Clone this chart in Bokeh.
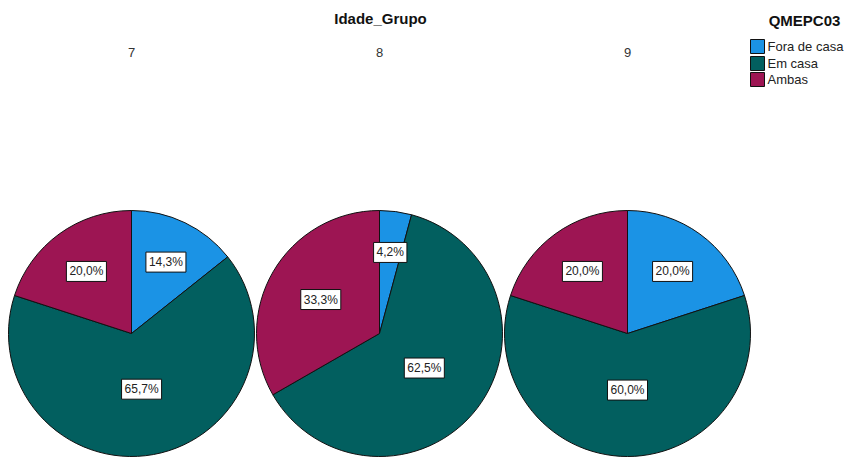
import math
from bokeh.plotting import figure
from bokeh.models import ColumnDataSource, Range1d
from bokeh.embed import file_html
from bokeh.resources import INLINE
from bokeh.core.properties import value

# ---- data ----
groups = ["7", "8", "9"]
categories = ["Fora de casa", "Em casa", "Ambas"]
fora_de_casa = [14.3, 4.2, 20.0]
em_casa = [65.7, 62.5, 60.0]
ambas = [20.0, 33.3, 20.0]
colors = ["#1b93e5", "#025f5f", "#9d1553"]
chart_title = "Idade_Grupo"
legend_title = "QMEPC03"

W, H = 860, 459
FONT = "Liberation Sans"

p = figure(width=W, height=H, x_range=Range1d(0, W), y_range=Range1d(0, H),
           output_backend="svg", toolbar_location=None, min_border=0,
           x_axis_location=None, y_axis_location=None)
p.grid.visible = False
p.outline_line_color = None
p.background_fill_color = "white"
p.border_fill_color = "white"

def sy(y):
    return H - y

centers_x = [131, 379, 627]
cy = sy(333)
R = 123

wx, wy, ws, we, wc = [], [], [], [], []
lx, ly, lt = [], [], []
series = [fora_de_casa, em_casa, ambas]
for gi, g in enumerate(groups):
    vals = [s[gi] for s in series]
    total = sum(vals)
    cum = 0.0
    for ci, v in enumerate(vals):
        a0 = 2 * math.pi * cum / total
        a1 = 2 * math.pi * (cum + v) / total
        cum += v
        wx.append(centers_x[gi]); wy.append(cy)
        ws.append(math.pi / 2 - a1); we.append(math.pi / 2 - a0)
        wc.append(colors[ci])
        th = a1 - a0
        d = 4 * R * math.sin(th / 2) / (3 * th)
        d = max(d, 0.46 * R)
        am = (a0 + a1) / 2
        lx.append(centers_x[gi] + d * math.sin(am))
        ly.append(cy + d * math.cos(am))
        lt.append(f"{v:.1f}".replace(".", ",") + "%")

wsrc = ColumnDataSource(dict(x=wx, y=wy, start=ws, end=we, color=wc))
p.wedge(x="x", y="y", radius=R, start_angle="start", end_angle="end",
        fill_color="color", line_color="#111111", line_width=1, source=wsrc)

lsrc = ColumnDataSource(dict(x=lx, y=ly, text=lt))
p.text(x="x", y="y", text="text", source=lsrc,
       text_align="center", text_baseline="middle",
       text_font=value(FONT), text_font_size="12px", text_color="#222222",
       background_fill_color="white", border_line_color="#111111",
       border_line_width=1, padding=3)

# title and panel labels
p.text(x=[380], y=[sy(18)], text=[chart_title], text_font=value(FONT),
       text_font_size="15px", text_font_style="bold", text_align="center",
       text_baseline="middle", text_color="#111111")
p.text(x=centers_x, y=[sy(52)] * 3, text=groups, text_font=value(FONT),
       text_font_size="13px", text_align="center", text_baseline="middle",
       text_color="#333333")

# legend
p.text(x=[804], y=[sy(20)], text=[legend_title], text_font=value(FONT),
       text_font_size="15px", text_font_style="bold", text_align="center",
       text_baseline="middle", text_color="#111111")
rows_y = [sy(46), sy(63), sy(79)]
p.rect(x=[757] * 3, y=rows_y, width=14, height=14, fill_color=colors,
       line_color="#111111", line_width=1)
p.text(x=[767] * 3, y=rows_y, text=categories, text_font=value(FONT),
       text_font_size="13px", text_align="left", text_baseline="middle",
       text_color="#222222")

open("out.html", "w").write(file_html(p, INLINE))
